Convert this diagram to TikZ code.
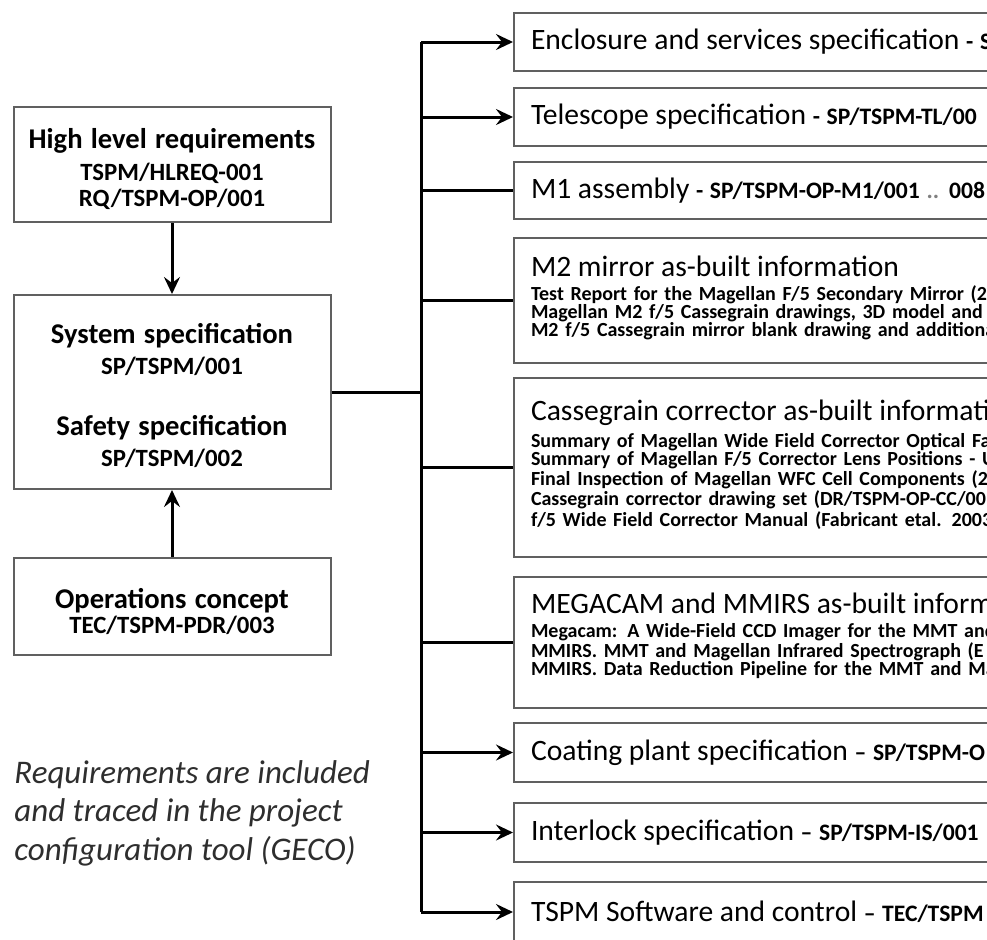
\documentclass[tikz,border=0pt]{standalone}
\usepackage{fontspec}
\setmainfont{Carlito}
\usetikzlibrary{arrows.meta}
\lineskiplimit=-100pt
\newcommand{\boxtitle}[1]{{\fontsize{14.8}{15}\mdseries\selectfont #1}}
\newcommand{\boxcode}[1]{{\fontsize{11.8}{12}\bfseries\selectfont #1}}
\newcommand{\lefttitle}[1]{{\fontsize{14.3}{15}\selectfont #1}}
\begin{document}
\begin{tikzpicture}[x=0.5pt,y=-0.5pt,>={Stealth[length=8.5pt,width=8pt,inset=3pt]}]
\useasboundingbox (0,0) rectangle (987,939);
\clip (0,0) rectangle (987,939);

\begin{scope}[every node/.style={draw=gray!75!black,line width=1pt,align=center,text width=158.5pt,inner sep=0pt,font=\fontsize{12.4}{13}\selectfont\bfseries}]
  \node[minimum height=57.5pt] (H) at (172,164.5) {\rule{0pt}{14.8pt}\lefttitle{High level requirements}\\[3.2pt] TSPM/HLREQ-001\\ RQ/TSPM-OP/001};
  \node[minimum height=97pt] (S) at (172,392) {\rule{0pt}{13.3pt}\lefttitle{System specification}\\[2.5pt] SP/TSPM/001\\[17.5pt] \lefttitle{Safety specification}\\[2.5pt] SP/TSPM/002};
  \node[minimum height=48.5pt] (O) at (172,606.5) {\rule{0pt}{14.8pt}\lefttitle{Operations concept}\\[-0.5pt] TEC/TSPM-PDR/003};
\end{scope}

\node[anchor=north west,align=left,inner sep=0pt,text=black!82,font=\fontsize{16.5}{19.25}\selectfont\itshape] (N) at (14,760) {Requirements are included\\ and traced in the project\\ configuration tool (GECO)};

\begin{scope}[every node/.style={draw=gray!75!black,line width=1pt,anchor=west,align=left,text width=376.5pt,inner xsep=8.5pt,inner ysep=0pt,font=\fontsize{10}{9}\selectfont\bfseries}]
  \node[minimum height=29pt] (R1) at (513,42) {\boxtitle{Enclosure and services specification} \boxcode{- S}};
  \node[minimum height=29pt] (R2) at (513,117) {\boxtitle{Telescope specification} \boxcode{- SP/TSPM-TL/00}};
  \node[minimum height=28.5pt] (R3) at (513,190.5) {\boxtitle{M1 assembly} \boxcode{- SP/TSPM-OP-M1/001 {\color{gray}..} 008}};
  \node[minimum height=62.5pt] (R4) at (513,300.5) {\boxtitle{M2 mirror as-built information}\\[3pt]
    Test Report for the Magellan F/5 Secondary Mirror (2\\
    Magellan M2 f/5 Cassegrain drawings, 3D model and \\
    M2 f/5 Cassegrain mirror blank drawing and additiona\\[-4.5pt] \rule{0pt}{0pt}};
  \node[minimum height=89.5pt] (R5) at (513,467.5) {\boxtitle{Cassegrain corrector as-built informati}\\[3pt]
    Summary of Magellan Wide Field Corrector Optical Fa\\
    Summary of Magellan F/5 Corrector Lens Positions - U\\
    Final Inspection of Magellan WFC Cell Components (2\\
    Cassegrain corrector drawing set (DR/TSPM-OP-CC/00\\
    f/5 Wide Field Corrector Manual (Fabricant etal. 2003\\[-4.5pt] \rule{0pt}{0pt}};
  \node[minimum height=65.5pt] (R6) at (513,642.5) {\boxtitle{MEGACAM and MMIRS as-built inform}\\[3pt]
    Megacam: A Wide-Field CCD Imager for the MMT and\\
    MMIRS. MMT and Magellan Infrared Spectrograph (E\\
    MMIRS. Data Reduction Pipeline for the MMT and Ma\\[-0.5pt] \rule{0pt}{0pt}};
  \node[minimum height=29.5pt] (R7) at (513,752.5) {\boxtitle{Coating plant specification} \boxcode{-- SP/TSPM-O}};
  \node[minimum height=29.5pt] (R8) at (513,832.5) {\boxtitle{Interlock specification} \boxcode{-- SP/TSPM-IS/001}};
  \node[minimum height=30pt] (R9) at (513,912) {\boxtitle{TSPM Software and control} \boxcode{-- TEC/TSPM}};
\end{scope}

\coordinate (T) at (421,0);

\begin{scope}[every edge/.style={draw=black,line width=1.5pt}]
  \path [->] (H) edge (S);
  \path [->] (O) edge (S);
  \path (S) edge (S -| T);
  \path (T |- R1) edge (T |- R9);
  \path [->] (T |- R1) edge (R1);
  \path [->] (T |- R2) edge (R2);
  \path (T |- R3) edge (R3);
  \path (T |- R4) edge (R4);
  \path (T |- R5) edge (R5);
  \path (T |- R6) edge (R6);
  \path [->] (T |- R7) edge (R7);
  \path [->] (T |- R8) edge (R8);
  \path [->] (T |- R9) edge (R9);
\end{scope}
\end{tikzpicture}
\end{document}
